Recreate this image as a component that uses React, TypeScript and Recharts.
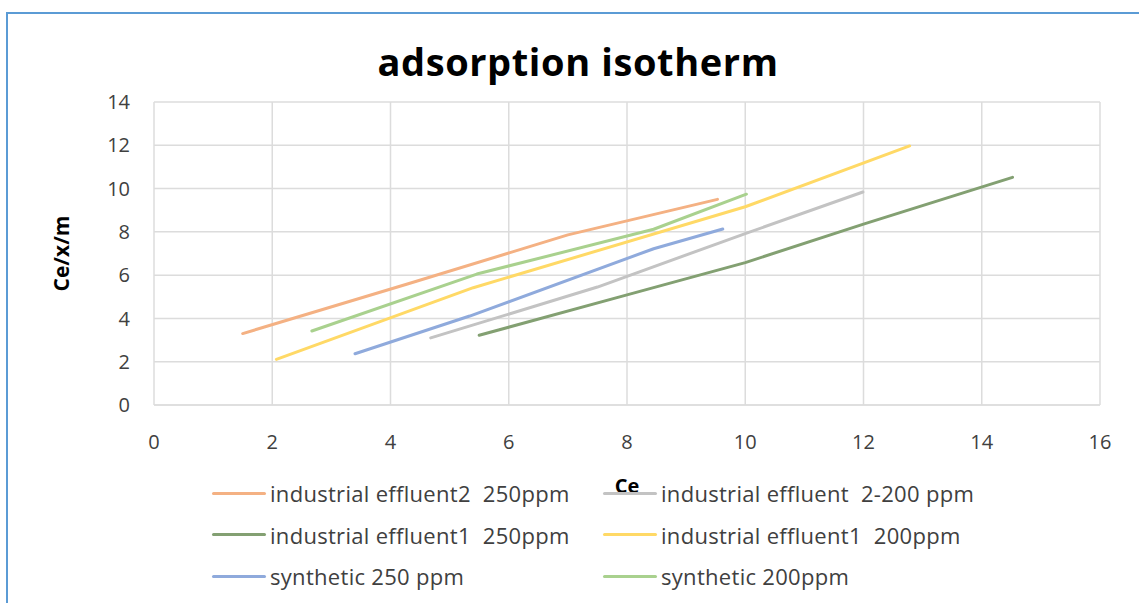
import React from 'react';
import { CartesianGrid, Label, Legend, Line, LineChart, XAxis, YAxis } from 'recharts';

// Ce vs Ce/(x/m)
const eff2At250 = [
  { x: 1.5, y: 3.3 },
  { x: 4.3, y: 5.6 },
  { x: 7.0, y: 7.86 },
  { x: 9.53, y: 9.5 }
];
const eff2At200 = [
  { x: 4.68, y: 3.1 },
  { x: 7.5, y: 5.45 },
  { x: 10.0, y: 7.92 },
  { x: 11.99, y: 9.84 }
];
const eff1At250 = [
  { x: 5.5, y: 3.22 },
  { x: 8.0, y: 5.09 },
  { x: 10.0, y: 6.58 },
  { x: 12.0, y: 8.36 },
  { x: 14.52, y: 10.52 }
];
const eff1At200 = [
  { x: 2.07, y: 2.11 },
  { x: 5.4, y: 5.42 },
  { x: 10.0, y: 9.16 },
  { x: 12.78, y: 11.97 }
];
const synth250 = [
  { x: 3.4, y: 2.37 },
  { x: 5.34, y: 4.11 },
  { x: 8.45, y: 7.22 },
  { x: 9.62, y: 8.13 }
];
const synth200 = [
  { x: 2.67, y: 3.42 },
  { x: 5.46, y: 6.05 },
  { x: 8.45, y: 8.12 },
  { x: 10.02, y: 9.74 }
];

const xTicks = [0, 2, 4, 6, 8, 10, 12, 14, 16];
const yTicks = [0, 2, 4, 6, 8, 10, 12, 14];

// legend order: left column then right column, row by row
const series = [
  { name: 'industrial effluent2  250ppm', data: eff2At250, color: '#f4b183' },
  { name: 'industrial effluent  2-200 ppm', data: eff2At200, color: '#c3c3c3' },
  { name: 'industrial effluent1  250ppm', data: eff1At250, color: '#83a072' },
  { name: 'industrial effluent1  200ppm', data: eff1At200, color: '#ffd966' },
  { name: 'synthetic 250 ppm', data: synth250, color: '#8faadc' },
  { name: 'synthetic 200ppm', data: synth200, color: '#a9d18e' }
];

const font = '"Open Sans", "Liberation Sans", sans-serif';

const LegendGrid = () => (
  <div style={{ position: 'relative', width: 1131, height: 124, fontFamily: font }}>
    {series.map((s, i) => {
      const col = i % 2;
      const row = Math.floor(i / 2);
      return (
        <div
          key={s.name}
          style={{
            position: 'absolute',
            left: col === 0 ? 204 : 595,
            top: 23 + row * 41.5 - 14,
            height: 28,
            display: 'flex',
            alignItems: 'center'
          }}
        >
          <div style={{ width: 54, height: 3, background: s.color, borderRadius: 2 }} />
          <span
            style={{
              marginLeft: 4,
              fontSize: 22,
              letterSpacing: 0.3,
              color: '#404040',
              whiteSpace: 'pre'
            }}
          >
            {s.name}
          </span>
        </div>
      );
    })}
  </div>
);

const App: React.FC = () => {
  return (
    <div
      style={{
        position: 'absolute',
        left: 6,
        top: 12,
        width: 1133,
        height: 591,
        borderTop: '2px solid #5b9bd5',
        borderLeft: '2px solid #5b9bd5',
        overflow: 'hidden',
        background: '#fff'
      }}
    >
      <div
        style={{
          position: 'absolute',
          left: 0,
          top: 25,
          width: 1140,
          textAlign: 'center',
          lineHeight: '44px',
          fontFamily: font,
          fontWeight: 700,
          fontSize: 38,
          letterSpacing: 0.6,
          color: '#000'
        }}
      >
        adsorption isotherm
      </div>
      <LineChart
        width={1131}
        height={589}
        margin={{ top: 88, right: 39, left: 46, bottom: 9 }}
        style={{ fontFamily: font }}
      >
        <CartesianGrid stroke="#dcdcdc" strokeWidth={1.5} />
        <XAxis
          dataKey="x"
          type="number"
          domain={[0, 16]}
          ticks={xTicks}
          height={65}
          tickSize={0}
          tickMargin={30}
          axisLine={{ stroke: '#dcdcdc', strokeWidth: 1.5 }}
          tickLine={false}
          tick={{ fill: '#404040', fontSize: 20 }}
          allowDuplicatedCategory={false}
        >
          <Label
            value="Ce"
            position="bottom"
            offset={9}
            fill="#000"
            fontWeight={700}
            fontSize={20}
          />
        </XAxis>
        <YAxis
          type="number"
          domain={[0, 14]}
          ticks={yTicks}
          width={100}
          tickSize={0}
          tickMargin={24}
          axisLine={false}
          tickLine={false}
          tick={{ fill: '#404040', fontSize: 20 }}
        >
          <Label
            value="Ce/x/m"
            position="insideLeft"
            angle={-90}
            offset={8}
            fill="#000"
            fontWeight={700}
            fontSize={21}
            style={{ textAnchor: 'middle' }}
          />
        </YAxis>
        <Legend
          verticalAlign="bottom"
          content={() => <LegendGrid />}
          wrapperStyle={{ left: 0, width: 1131, height: 124 }}
        />
        {series.map(s => (
          <Line
            key={s.name}
            data={s.data}
            dataKey="y"
            name={s.name}
            type="linear"
            stroke={s.color}
            strokeWidth={3}
            strokeLinecap="round"
            strokeLinejoin="round"
            dot={false}
            activeDot={false}
            isAnimationActive={false}
          />
        ))}
      </LineChart>
    </div>
  );
};

export default App;
